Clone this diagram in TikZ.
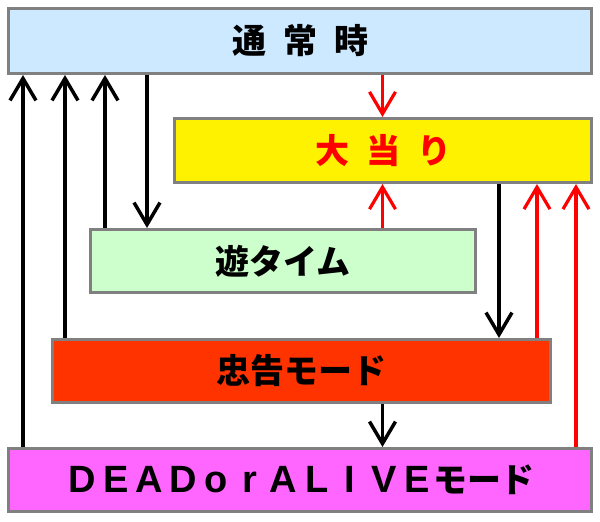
\documentclass[tikz,border=0pt]{standalone}
\usepackage{fontspec}
\newfontfamily\jp{Noto Sans CJK JP}
\newfontfamily\latinbold{Liberation Sans}
\usetikzlibrary{arrows.meta}
\definecolor{bordergray}{RGB}{128,128,128}
\definecolor{skyfill}{RGB}{204,233,255}
\definecolor{greenfill}{RGB}{204,255,204}
\definecolor{orangefill}{RGB}{255,51,0}
\definecolor{pinkfill}{RGB}{255,102,255}
\newcommand\fwl[1]{\makebox[33.5pt]{{\latinbold\bfseries\fontsize{38}{40}\selectfont #1}}}
\newcommand\fwj[1]{\makebox[33.5pt]{#1}}
\begin{document}
\begin{tikzpicture}[x=1pt,y=-1pt,
  box/.style={draw=bordergray,line width=3pt,rectangle,inner sep=0pt,outer sep=1.5pt,
    font=\jp\bfseries\fontsize{34}{40}\selectfont},
  blk/.style={draw=black,line width=3.5pt,-{Straight Barb[length=22pt,width=26pt,line width=3.5pt]}},
  redarr/.style={draw=red,line width=3.2pt,-{Straight Barb[length=22pt,width=26pt,line width=3.2pt]}}]
\useasboundingbox (0,0) rectangle (600,522);
\node[box,fill=skyfill,minimum width=583pt,minimum height=65pt] (normal) at (300,41) {通\hspace{0.5em}常\hspace{0.5em}時};
\node[box,fill=yellow,minimum width=417pt,minimum height=64pt,text=red] (hit) at (383,150.5) {大\hspace{0.5em}当\hspace{0.5em}り};
\node[box,fill=greenfill,minimum width=385pt,minimum height=63pt] (yu) at (283,261) {遊タイム};
\node[box,fill=orangefill,minimum width=498pt,minimum height=63pt] (chukoku) at (301.5,371) {忠告モード};
\node[box,fill=pinkfill,minimum width=583pt,minimum height=63pt] (dead) at (300,480)
  {\fwl{D}\fwl{E}\fwl{A}\fwl{D}\fwl{o}\fwl{r}\fwl{A}\fwl{L}\fwl{I}\fwl{V}\fwl{E}\fwj{モ}\fwj{ー}\fwj{ド}};
\coordinate (c1) at (23,0);
\coordinate (c2) at (65,0);
\coordinate (c3) at (105,0);
\coordinate (c4) at (147,0);
\coordinate (c5) at (382.5,0);
\coordinate (c6) at (499,0);
\coordinate (c7) at (537,0);
\coordinate (c8) at (576,0);
% black arrows
\draw[blk] (dead.north -| c1) -- (normal.south -| c1);
\draw[blk] (chukoku.north -| c2) -- (normal.south -| c2);
\draw[blk] (yu.north -| c3) -- (normal.south -| c3);
\draw[blk] (normal.south -| c4) -- (yu.north -| c4);
\draw[blk] (hit.south -| c6) -- (chukoku.north -| c6);
\draw[blk] (chukoku.south -| c5) -- (dead.north -| c5);
% red arrows
\draw[redarr] (normal.south -| c5) -- (hit.north -| c5);
\draw[redarr] (yu.north -| c5) -- (hit.south -| c5);
\draw[redarr] (chukoku.north -| c7) -- (hit.south -| c7);
\draw[redarr] (dead.north -| c8) -- (hit.south -| c8);
\end{tikzpicture}
\end{document}
